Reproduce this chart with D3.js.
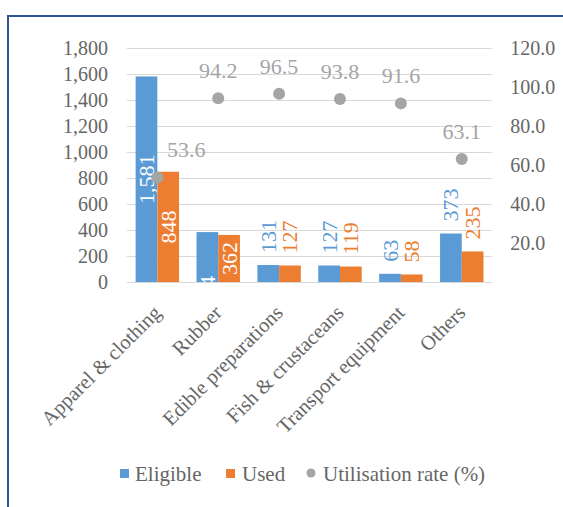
<!DOCTYPE html>
<html><head><meta charset="utf-8">
<script src="https://cdn.jsdelivr.net/npm/d3@7/dist/d3.min.js"></script>
<style>body{margin:0;background:#fff}svg{display:block}</style>
</head><body>
<svg id="c" width="563" height="507" font-family="Liberation Serif"></svg>
<script>
const categories = ["Apparel & clothing","Rubber","Edible preparations","Fish & crustaceans","Transport equipment","Others"];
const eligible = [1581, 384, 131, 127, 63, 373];
const used = [848, 362, 127, 119, 58, 235];
const utilisation = [53.6, 94.2, 96.5, 93.8, 91.6, 63.1];
const leftTicks = [0,200,400,600,800,1000,1200,1400,1600,1800];
const rightTicks = [20,40,60,80,100,120];
const seriesNames = ["Eligible","Used","Utilisation rate (%)"];

// label placement styles
const eligibleLabelMode = ["center","base","outside","outside","outside","outside"];
const usedLabelMode = ["center","center","outside","outside","outside","outside"];
const utilLabelDx = [29,0,0,0,0,0];

const colors = {Eligible:"#5b9bd5", Used:"#ed7d31", Util:"#a5a5a5"};
const TXT = "#666666";
const FONT = "Liberation Serif";

const svg = d3.select("#c");
svg.append("rect").attr("width",563).attr("height",507).attr("fill","#fff");
svg.append("rect").attr("x",8).attr("y",16).attr("width",600).attr("height",600)
  .attr("fill","none").attr("stroke","#2f5597").attr("stroke-width",2);

const L = 126.9, R = 492.2, T = 48, B = 282;
const x = d3.scaleBand().domain(categories).range([L,R]).paddingInner(0.287).paddingOuter(0.1435);
const xs = d3.scaleBand().domain(["Eligible","Used"]).range([0,x.bandwidth()]);
const yL = d3.scaleLinear().domain([0,1800]).range([B,T]);
const yR = d3.scaleLinear().domain([0,120]).range([B,T]);

svg.append("g").attr("transform",`translate(${L},0)`)
  .call(d3.axisLeft(yL).tickValues(leftTicks).tickSize(-(R-L)).tickFormat(""))
  .call(g=>g.select(".domain").remove())
  .call(g=>g.selectAll("line").attr("stroke","#d9d9d9"));

svg.append("g").attr("transform",`translate(${L},0)`)
  .call(d3.axisLeft(yL).tickValues(leftTicks).tickSize(0).tickPadding(19).tickFormat(d3.format(",")))
  .call(g=>g.select(".domain").remove())
  .call(g=>g.attr("font-family",FONT).attr("font-size",20))
  .call(g=>g.selectAll("text").attr("fill",TXT));

svg.append("g").attr("transform",`translate(${R},0)`)
  .call(d3.axisRight(yR).tickValues(rightTicks).tickSize(0).tickPadding(18).tickFormat(d3.format(".1f")))
  .call(g=>g.select(".domain").remove())
  .call(g=>g.attr("font-family",FONT).attr("font-size",20))
  .call(g=>g.selectAll("text").attr("fill",TXT));

svg.append("clipPath").attr("id","plot").append("rect").attr("x",L).attr("y",0).attr("width",R-L).attr("height",B);

const rows = categories.map((c,i)=>({c,i,Eligible:eligible[i],Used:used[i],util:utilisation[i]}));
const series = [
  {key:"Eligible", mode:eligibleLabelMode},
  {key:"Used", mode:usedLabelMode}
];
const plot = svg.append("g");
series.forEach(s=>{
  plot.selectAll(null).data(rows).join("rect")
    .attr("x",d=>x(d.c)+xs(s.key))
    .attr("y",d=>yL(d[s.key]))
    .attr("width",xs.bandwidth())
    .attr("height",d=>B-yL(d[s.key]))
    .attr("fill",colors[s.key]);
});
svg.append("line").attr("x1",L).attr("x2",R).attr("y1",B+0.5).attr("y2",B+0.5).attr("stroke","#d9d9d9");

const labG = svg.append("g").attr("clip-path","url(#plot)");
series.forEach(s=>{
  rows.forEach(d=>{
    const v = d[s.key], mode = s.mode[d.i];
    const cx = x(d.c)+xs(s.key)+xs.bandwidth()/2;
    const top = yL(v);
    let y, anchor, fill;
    if(mode==="center"){ y=(top+B)/2; anchor="middle"; fill="#fff"; }
    else if(mode==="base"){ y=B+27; anchor="start"; fill="#fff"; }
    else { y=top-12; anchor="start"; fill=colors[s.key]; }
    labG.append("text").attr("transform",`translate(${cx},${y}) rotate(-90)`)
      .attr("text-anchor",anchor).attr("dominant-baseline","central")
      .attr("font-family",FONT).attr("font-size",22).attr("fill",fill)
      .text(d3.format(",")(v));
  });
});

const cxDot = d=>x(d.c)+x.bandwidth()/2;
svg.append("g").selectAll("circle").data(rows).join("circle")
  .attr("cx",cxDot).attr("cy",d=>yR(d.util)).attr("r",6).attr("fill",colors.Util);
svg.append("g").selectAll("text").data(rows).join("text")
  .attr("x",d=>cxDot(d)+utilLabelDx[d.i]).attr("y",d=>yR(d.util)-20)
  .attr("text-anchor","middle").attr("font-family",FONT).attr("font-size",22).attr("fill",colors.Util)
  .text(d=>d3.format(".1f")(d.util));

svg.append("g").attr("transform",`translate(0,${B})`)
  .call(d3.axisBottom(x).tickSize(0).tickPadding(0))
  .call(g=>g.select(".domain").remove())
  .call(g=>g.attr("font-family",FONT).attr("font-size",20.5))
  .call(g=>g.selectAll("text")
     .attr("fill",TXT)
     .attr("text-anchor","end").attr("dy",null).attr("y",null)
     .attr("transform","translate(0,27) rotate(-45)")
     .attr("dominant-baseline","central"));

const lg = svg.append("g").attr("font-family",FONT).attr("font-size",21).attr("fill",TXT);
lg.append("rect").attr("x",120).attr("y",469).attr("width",9).attr("height",9).attr("fill",colors.Eligible);
lg.append("text").attr("x",135).attr("y",474).attr("dominant-baseline","central").text(seriesNames[0]);
lg.append("rect").attr("x",226).attr("y",469).attr("width",9).attr("height",9).attr("fill",colors.Used);
lg.append("text").attr("x",242).attr("y",474).attr("dominant-baseline","central").text(seriesNames[1]);
lg.append("circle").attr("cx",311).attr("cy",473).attr("r",4.5).attr("fill",colors.Util);
lg.append("text").attr("x",323).attr("y",474).attr("dominant-baseline","central").text(seriesNames[2]);
</script>
</body></html>
